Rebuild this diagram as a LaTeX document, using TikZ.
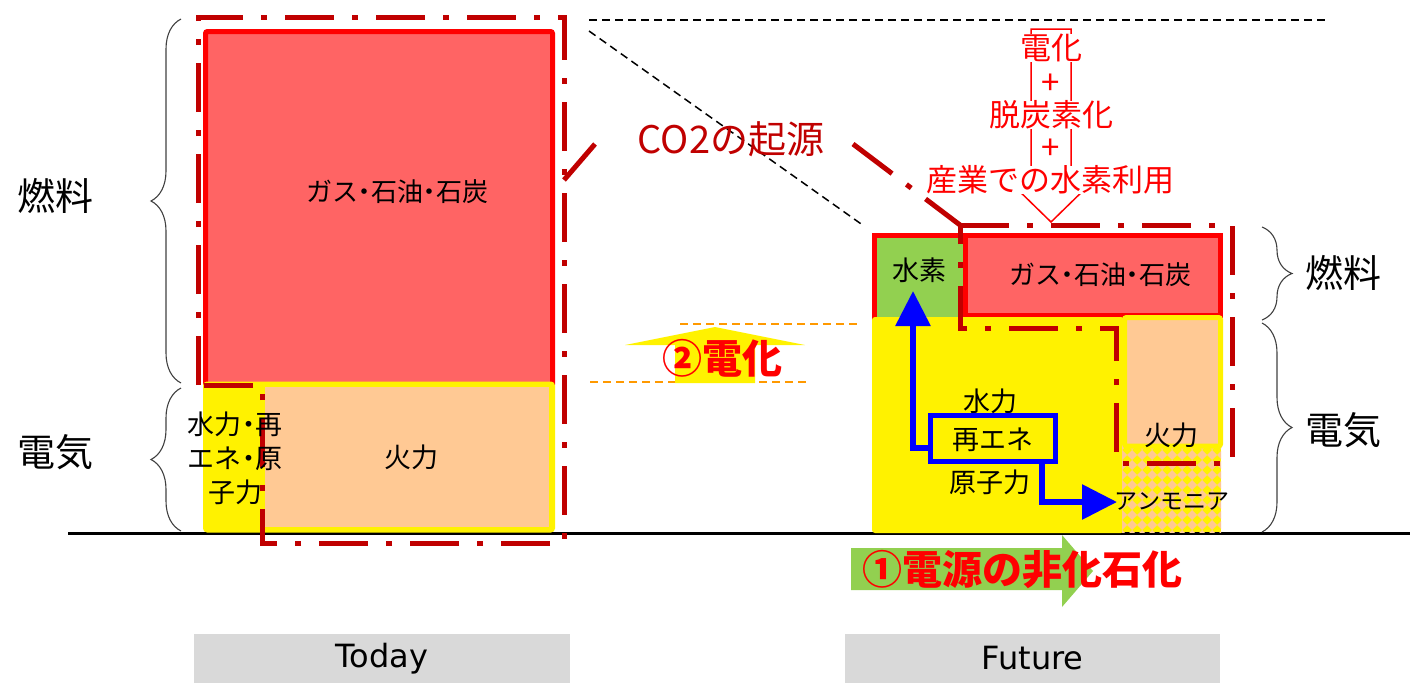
\documentclass[tikz,border=0pt]{standalone}
\usepackage{fontspec}
\setmainfont{Noto Sans CJK JP}
\newfontfamily\latfont{DejaVu Sans}
\usetikzlibrary{arrows.meta,decorations.pathreplacing}
\definecolor{fuelred}{HTML}{FF6464}
\definecolor{peach}{HTML}{FFC994}
\definecolor{dred}{HTML}{C00000}
\definecolor{lgreen}{HTML}{92D050}
\definecolor{lgray}{HTML}{D9D9D9}
\definecolor{odash}{HTML}{FF9900}
\definecolor{bracegray}{HTML}{404040}
\newcommand\nkd{\kern-.25em・\kern-.25em}
\tikzset{
  lbl/.style={inner sep=0pt, align=center, font=\fontsize{27}{34}\selectfont},
  lblfuel/.style={inner sep=0pt, font=\fontsize{26}{30}\selectfont},
  side/.style={inner sep=0pt, font=\fontsize{38}{44}\selectfont},
  ddash/.style={draw=dred, line width=5pt, dash pattern=on 49pt off 18pt on 6pt off 18pt, line join=miter},
  bracedec/.style={decorate, decoration={brace, amplitude=30pt}, draw=bracegray, line width=1.1pt},
  blkdash/.style={draw=black, line width=1.5pt, dash pattern=on 8pt off 5pt},
  odashed/.style={draw=odash, line width=2pt, dash pattern=on 8pt off 5pt},
  redtxt/.style={inner sep=0pt, text=red, fill=white, font=\fontsize{31}{36}\selectfont},
  boldtxt/.style={inner sep=0pt, text=red, font=\fontsize{40}{46}\selectfont\bfseries},
  barbox/.style={fill=lgray, draw=none, minimum height=49pt, text=black, font=\latfont\fontsize{32}{38}\selectfont},
  bluearrow/.style={draw=blue, line width=6pt, -{Triangle[length=35pt,width=34pt]}},
}
\begin{document}
\begin{tikzpicture}[x=1pt,y=-1pt]
\path[use as bounding box] (0,0) rectangle (1423,686);

% black dashed guide lines
\coordinate (gh1) at (589,20);
\coordinate (gh2) at (1325,20);
\coordinate (gd1) at (589,31);
\coordinate (gd2) at (864,226);
\draw[blkdash] (gh1) -- (gh2);
\draw[blkdash] (gd1) -- (gd2);

% baseline
\coordinate (bl1) at (68,533.5);
\coordinate (bl2) at (1410,533.5);
\draw[line width=3pt] (bl1) -- (bl2);

% ---------- Today ----------
\draw[fill=fuelred, draw=red, line width=5pt, rounded corners=2pt] (205.5,31.5) rectangle (552.5,386);
\draw[fill=yellow, draw=yellow, line width=5pt, rounded corners=2pt] (205.5,384) rectangle (552.5,530);
\fill[peach] (265,387) rectangle (549,527);

% Today dash-dot outline
\draw[ddash] (198,385) -- (198,17) -- (564,17) -- (564,543) -- (262,543) -- (262,385) -- cycle;
\coordinate (tdiag1) at (564,180);
\coordinate (tdiag2) at (595,144);
\draw[ddash] (tdiag1) -- (tdiag2);

\node[lblfuel] (tfuel) at (397,192) {ガス\nkd 石油\nkd 石炭};
\node[lbl] (tfire) at (411,457) {火力};
\node[lbl] (tren) at (235,458) {水力\nkd 再\\エネ\nkd 原\\子力};

% ---------- Future ----------
\draw[fill=lgreen, draw=red, line width=5pt] (874.5,235.5) rectangle (965,330);
\draw[fill=fuelred, draw=red, line width=5pt] (965,235.5) rectangle (1220.5,315);
\fill[yellow, rounded corners=3pt] (872,317) rectangle (1124,533);
% ammonia checker region
\begin{scope}
  \clip (1122,445) rectangle (1221,532);
  \fill[yellow] (1122,445) rectangle (1221,532);
  \foreach \i in {0,...,10} {
    \foreach \j in {0,...,9} {
      \fill[peach] ({1122+10*\i},{445+10*\j-5}) -- ++(5,5) -- ++(-5,5) -- ++(-5,-5) -- cycle;
    }
  }
\end{scope}
\draw[fill=peach, draw=yellow, line width=5pt, rounded corners=2pt] (1124.5,317.5) rectangle (1220.5,446);

\node[lbl] (fh2) at (919,270) {水素};
\node[lblfuel] (ffuel) at (1100,275) {ガス\nkd 石油\nkd 石炭};
\node[lbl] (fhydro) at (990,401) {水力};
\node[draw=blue, fill=yellow, line width=5pt, minimum width=125pt, minimum height=46pt, inner sep=0pt] (rebox) at (993,438.5) {};
\node[lbl] (fre) at (993,440) {再エネ};
\node[lbl] (fnuc) at (990,482) {原子力};
\node[lbl] (ffire) at (1171,435) {火力};
\node[inner sep=0pt, font=\fontsize{23}{26}\selectfont] (fnh3) at (1172,501) {アンモニア};

% blue arrows
\coordinate (upc) at (913,448);
\coordinate (uptip) at (913,291);
\draw[bluearrow] (rebox.west |- upc) -- (upc) -- (uptip);
\coordinate (rc) at (1042,502);
\coordinate (rtip) at (1117,502);
\draw[bluearrow] (rebox.south -| rc) -- (rc) -- (rtip);

% Future dash-dot outline
\coordinate (fdiag1) at (853,144);
\coordinate (fcorner) at (960,225);
\draw[ddash] (fdiag1) -- (fcorner);
\draw[ddash] (fcorner) -- (1232,225) -- (1232,463) -- (1116,463) -- (1116,328) -- (960,328) -- (fcorner);

\node[inner sep=0pt, text=dred, font=\fontsize{38}{44}\selectfont] (co2) at (731,139) {CO2の起源};

% ---------- red note with down arrow ----------
\draw[red, line width=1.5pt, line join=miter] (1031,29) -- (1071,29) -- (1071,183) -- (1091,183) -- (1051,222) -- (1011,183) -- (1031,183) -- cycle;
\node[redtxt] (n1) at (1051,48) {電化};
\node[inner sep=0pt, text=red, font=\fontsize{33}{36}\selectfont] (p1) at (1051,84) {+};
\node[redtxt] (n2) at (1051,115) {脱炭素化};
\node[inner sep=0pt, text=red, font=\fontsize{33}{36}\selectfont] (p2) at (1051,149) {+};
\node[redtxt] (n3) at (1050,180) {産業での水素利用};

% ---------- electrification arrow ----------
\draw[odashed] (680,324) -- (858,324);
\draw[odashed] (590,382) -- (807,382);
\fill[yellow] (625,345) -- (715,327) -- (805,345) -- (755,345) -- (755,383) -- (675,383) -- (675,345) -- cycle;
\node[boldtxt] (elec) at (722,358) {②電化};

% ---------- non-fossil arrow ----------
\fill[lgreen] (851,548) -- (1062,548) -- (1062,535) -- (1093,571) -- (1062,607) -- (1062,590) -- (851,590) -- cycle;
\node[boldtxt] (nonfossil) at (1022,570) {①電源の非化石化};

% ---------- side labels and braces ----------
\draw[bracedec] (181,383) -- (181,19);
\draw[bracedec] (181,531) -- (181,388);
\draw[bracedec] (1262,227) -- (1262,320);
\draw[bracedec] (1262,323) -- (1262,532);
\node[side] (lf) at (55,196) {燃料};
\node[side] (le) at (55,452) {電気};
\node[side] (rf) at (1343,273) {燃料};
\node[side] (re) at (1343,430) {電気};

% ---------- bottom bars ----------
\node[barbox, minimum width=376pt] (today) at (382,658.5) {Today};
\node[barbox, minimum width=375pt] (future) at (1032.5,658.5) {Future};
\end{tikzpicture}
\end{document}
